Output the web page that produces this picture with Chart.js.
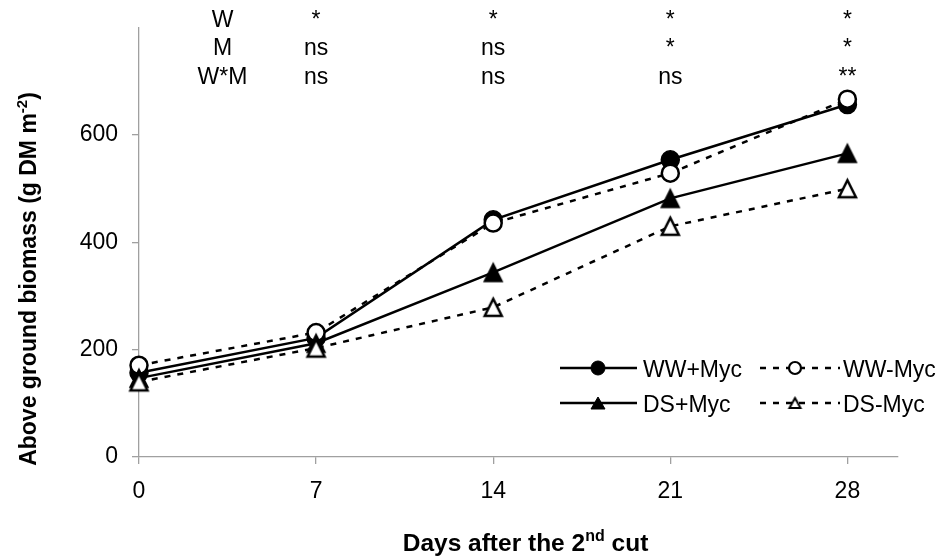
<!DOCTYPE html>
<html><head><meta charset="utf-8">
<script src="https://cdn.jsdelivr.net/npm/chart.js@4/dist/chart.umd.min.js"></script>
<style>html,body{margin:0;padding:0;background:#fff;}</style>
</head><body>
<canvas id="c" width="938" height="559"></canvas>
<script>
// ---- data ----
const days = [0, 7, 14, 21, 28];
const wwPlusMyc = [157, 222, 442, 554, 657];
const wwMinusMyc = [171, 232, 436, 529, 667];
const dsPlusMyc = [147, 212, 344, 482, 566];
const dsMinusMyc = [140, 203, 279, 430, 500];
const seriesNames = ['WW+Myc', 'WW-Myc', 'DS+Myc', 'DS-Myc'];
const xTickValues = [0, 7, 14, 21, 28];
const yTickValues = [0, 200, 400, 600];
const sigFactors = ['W', 'M', 'W*M'];
const sigDays = [7, 14, 21, 28];
const sigW = ['*', '*', '*', '*'];
const sigM = ['ns', 'ns', '*', '*'];
const sigWM = ['ns', 'ns', 'ns', '**'];

const FONT = '"Liberation Sans", Arial, Helvetica, sans-serif';
const AXIS_GRAY = '#a0a0a0';

function triCanvas(w, h, filled, lw) {
  const pad = Math.ceil(lw) + 1;
  const c = document.createElement('canvas');
  c.width = w + 2 * pad; c.height = h + 2 * pad;
  const g = c.getContext('2d');
  g.beginPath();
  g.moveTo(pad + w / 2, pad);
  g.lineTo(pad + w, pad + h);
  g.lineTo(pad, pad + h);
  g.closePath();
  g.fillStyle = filled ? '#000' : '#fff';
  g.fill();
  g.lineWidth = lw; g.strokeStyle = '#000'; g.lineJoin = 'miter';
  g.stroke();
  return c;
}
const triFilled = triCanvas(18, 18, true, 1.5);
const triOpen = triCanvas(17, 17, false, 2.5);
const triFilledSmall = triCanvas(14, 12, true, 1);
const triOpenSmall = triCanvas(11, 10, false, 2);

function ds(label, data, dashed, style, fill, order, radius) {
  return {
    label, data: days.map((d, i) => ({x: d, y: data[i]})),
    borderColor: '#000', borderWidth: 2.5, borderDash: dashed ? [6, 7] : [],
    pointStyle: style, pointRadius: radius, pointBorderWidth: style === 'circle' ? (fill === '#000' ? 1.5 : 2.5) : 0,
    pointBackgroundColor: fill, pointBorderColor: '#000',
    tension: 0, order, clip: false, fill: false
  };
}

const sigPlugin = {
  id: 'sig',
  afterDraw(chart) {
    const ctx = chart.ctx, xs = chart.scales.x;
    ctx.save();
    ctx.font = '23px ' + FONT; ctx.fillStyle = '#000';
    ctx.textAlign = 'center'; ctx.textBaseline = 'alphabetic';
    const rowsY = [27, 55, 84];
    const labelX = xs.getPixelForValue(3.3);
    sigFactors.forEach((f, i) => ctx.fillText(f, labelX, rowsY[i]));
    [sigW, sigM, sigWM].forEach((row, i) => row.forEach((t, j) => {
      ctx.fillText(t, xs.getPixelForValue(sigDays[j]), rowsY[i]);
    }));

    // legend
    const rows = [368, 403];
    const cols = [{l: 560, r: 637, m: 598, t: 643}, {l: 760, r: 840, m: 795, t: 843}];
    const entries = [
      {name: seriesNames[0], col: 0, row: 0, dashed: false, kind: 'cf'},
      {name: seriesNames[1], col: 1, row: 0, dashed: true, kind: 'co'},
      {name: seriesNames[2], col: 0, row: 1, dashed: false, kind: 'tf'},
      {name: seriesNames[3], col: 1, row: 1, dashed: true, kind: 'to'}
    ];
    entries.forEach(e => {
      const c = cols[e.col], y = rows[e.row];
      ctx.save();
      ctx.strokeStyle = '#000'; ctx.lineWidth = 2.5;
      ctx.setLineDash(e.dashed ? [6, 7] : []);
      ctx.beginPath(); ctx.moveTo(c.l, y); ctx.lineTo(c.r, y); ctx.stroke();
      ctx.setLineDash([]);
      if (e.kind === 'cf' || e.kind === 'co') {
        ctx.beginPath(); ctx.arc(c.m, y, e.kind === 'cf' ? 7 : 6, 0, Math.PI * 2);
        ctx.fillStyle = e.kind === 'cf' ? '#000' : '#fff'; ctx.fill();
        ctx.lineWidth = e.kind === 'cf' ? 1 : 2.2; ctx.stroke();
      } else {
        const img = e.kind === 'tf' ? triFilledSmall : triOpenSmall;
        ctx.drawImage(img, c.m - img.width / 2, y - img.height / 2);
      }
      ctx.restore();
      ctx.textAlign = 'left';
      ctx.fillText(e.name, c.t, y + 8.5);
    });

    // y title
    ctx.font = 'bold 23px ' + FONT;
    const t1 = 'Above ground biomass (g DM m', sup = '-2', t3 = ')';
    const supFont = 'bold 15px ' + FONT;
    const w1 = ctx.measureText(t1).width, w3 = ctx.measureText(t3).width;
    ctx.font = supFont; const ws = ctx.measureText(sup).width;
    const total = w1 + ws + w3;
    ctx.save();
    ctx.translate(36, 279); ctx.rotate(-Math.PI / 2);
    ctx.textAlign = 'left';
    let x0 = -total / 2;
    ctx.font = 'bold 23px ' + FONT; ctx.fillText(t1, x0, 0);
    ctx.font = supFont; ctx.fillText(sup, x0 + w1, -9);
    ctx.font = 'bold 23px ' + FONT; ctx.fillText(t3, x0 + w1 + ws, 0);
    ctx.restore();

    // x title
    const xFont = 'bold 24.5px ' + FONT, xSup = 'bold 16px ' + FONT;
    const a1 = 'Days after the 2', as = 'nd', a3 = ' cut';
    ctx.font = xFont;
    const v1 = ctx.measureText(a1).width, v3 = ctx.measureText(a3).width;
    ctx.font = xSup; const vs = ctx.measureText(as).width;
    const tot2 = v1 + vs + v3;
    const cx = (chart.chartArea.left + chart.chartArea.right) / 2 + 7;
    let sx = cx - tot2 / 2;
    const by = 551;
    ctx.textAlign = 'left';
    ctx.font = xFont; ctx.fillText(a1, sx, by);
    ctx.font = xSup; ctx.fillText(as, sx + v1, by - 10);
    ctx.font = xFont; ctx.fillText(a3, sx + v1 + vs, by);
    ctx.restore();
  }
};

new Chart(document.getElementById('c'), {
  type: 'line',
  data: {
    datasets: [
      ds(seriesNames[0], wwPlusMyc, false, 'circle', '#000', 4, 9),
      ds(seriesNames[1], wwMinusMyc, true, 'circle', '#fff', 3, 8.5),
      ds(seriesNames[2], dsPlusMyc, false, triFilled, '#000', 2, 10),
      ds(seriesNames[3], dsMinusMyc, true, triOpen, '#fff', 1, 10)
    ]
  },
  options: {
    responsive: false, animation: false, devicePixelRatio: 1,
    layout: {padding: {left: 0, right: 40, top: 17, bottom: 0}},
    plugins: {legend: {display: false}, tooltip: {enabled: false}},
    scales: {
      x: {
        type: 'linear', min: 0, max: 30,
        afterBuildTicks: s => { s.ticks = xTickValues.map(v => ({value: v})); },
        afterFit: s => { s.height = 102; },
        grid: {display: true, drawOnChartArea: false, drawTicks: true, tickLength: 7, color: AXIS_GRAY, lineWidth: 1.3},
        border: {display: true, color: AXIS_GRAY, width: 1.3},
        ticks: {font: {family: FONT, size: 23}, color: '#000', padding: 14, maxRotation: 0, autoSkip: false}
      },
      y: {
        type: 'linear', min: 0, max: 800,
        afterBuildTicks: s => { s.ticks = yTickValues.map(v => ({value: v})); },
        afterFit: s => { s.width = 139; },
        grid: {display: true, drawOnChartArea: false, drawTicks: true, tickLength: 7, color: AXIS_GRAY, lineWidth: 1.3},
        border: {display: true, color: AXIS_GRAY, width: 1.3},
        ticks: {font: {family: FONT, size: 23}, color: '#000', padding: 14, autoSkip: false}
      }
    }
  },
  plugins: [sigPlugin]
});
</script>
</body></html>
